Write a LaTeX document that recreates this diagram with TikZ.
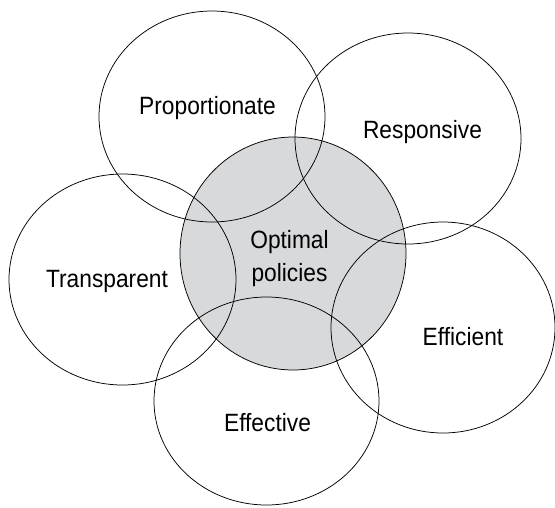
\documentclass[tikz,border=0pt]{standalone}
\usepackage{fontspec}
\setmainfont{Liberation Sans}[FakeStretch=0.91]
\definecolor{coregray}{RGB}{216,217,219}

\begin{document}
\begin{tikzpicture}[x=1pt, y=-1pt,
    lens/.style={draw=black, line width=0.75pt},
    tag/.style={anchor=base, inner sep=0pt, align=center,
      font=\fontsize{25}{33}\selectfont}]
  \useasboundingbox (0,0) rectangle (555,507);
  % shaded core goes first so every ring outline stays on top
  \fill[coregray] (293,253.5) ellipse [x radius=113pt, y radius=116.5pt];
  \draw[lens] (293,253.5) ellipse [x radius=113pt, y radius=116.5pt];
  \draw[lens] (212,116.5) ellipse [x radius=113pt, y radius=105.5pt];
  \draw[lens] (408,138.5) ellipse [x radius=113pt, y radius=105.5pt];
  \draw[lens] (122.5,279.5) ellipse [x radius=113.5pt, y radius=105.5pt];
  \draw[lens] (443,327.5) ellipse [x radius=112pt, y radius=105.5pt];
  \draw[lens] (266.5,401) ellipse [x radius=112.5pt, y radius=104pt];
  % labels
  \node[tag] (prop) at (207.5,114) {Proportionate};
  \node[tag] (resp) at (422.5,138) {Responsive};
  \node[tag] (trans) at (107,287) {Transparent};
  \node[tag] (core) at (289.5,281) {Optimal\\policies};
  \node[tag] (effi) at (463,345) {Efficient};
  \node[tag] (effe) at (267.5,431) {Effective};
\end{tikzpicture}
\end{document}
